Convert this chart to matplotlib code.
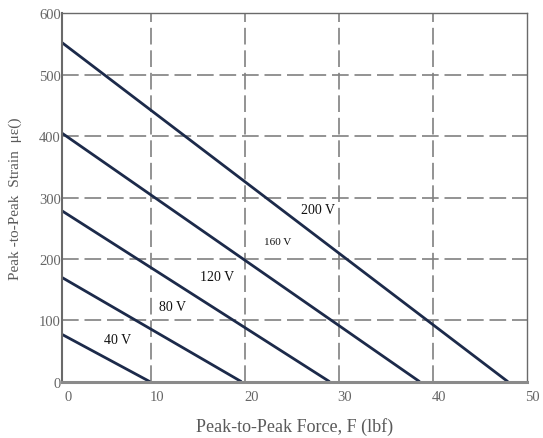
import matplotlib
matplotlib.use("Agg")
import matplotlib.pyplot as plt
import matplotlib.transforms as mtransforms

plt.rcParams['font.family'] = ['Liberation Serif', 'DejaVu Serif']

# Drive voltages and their straight-line force/strain limits
voltages = ["40 V", "80 V", "120 V", "160 V", "200 V"]
strain_at_zero_force = [81, 174, 283, 410, 558]      # peak-to-peak strain (µε) at F = 0
force_at_zero_strain = [9.85, 19.6, 29.0, 38.6, 48.0]  # blocked force (lbf)

# Curve label placement (force, strain) and font size
label_x = [6.4, 12.3, 17.0, 23.5, 27.8]
label_y = [68, 123, 172, 229, 281]
label_size = [10, 10, 10, 8, 10]

x_ticks = [0, 10, 20, 30, 40, 50]
y_ticks = [0, 100, 200, 300, 400, 500, 600]

fig = plt.figure(figsize=(5.43, 4.39), dpi=100)
ax = fig.add_axes([0.1147, 0.1282, 0.8553, 0.8388])

line_color = "#1c2a4a"
for f0, s0 in zip(force_at_zero_strain, strain_at_zero_force):
    ax.plot([0, f0], [s0, 0], color=line_color, lw=2.0, solid_capstyle="butt")

for name, lx, ly, fs in zip(voltages, label_x, label_y, label_size):
    ax.text(lx, ly, name, ha="center", va="center", fontsize=fs, color="#111111")

ax.set_xlim(0.5, 50)
ax.set_ylim(0, 600)

# Grid lines at the interior tick positions
grid_kw = dict(color="#808080", lw=1.2, dashes=(10, 3.5))
for gx in x_ticks[1:-1]:
    ax.axvline(gx, **grid_kw, zorder=0)
for gy in y_ticks[1:-1]:
    ax.axhline(gy, **grid_kw, zorder=0)

ax.set_xticks([0.5] + x_ticks[1:])
ax.set_xticklabels([str(v) for v in x_ticks])
ax.set_yticks(y_ticks)
ax.set_yticklabels([str(v) for v in y_ticks])
ax.tick_params(axis="both", length=0, labelsize=10.5, labelcolor="#666666")
ax.tick_params(axis="x", pad=6)
ax.tick_params(axis="y", pad=1)

offset = mtransforms.ScaledTranslation(6 / 100, 0, fig.dpi_scale_trans)
for lbl in ax.get_xticklabels():
    lbl.set_transform(lbl.get_transform() + offset)

for side in ["top", "right"]:
    ax.spines[side].set_color("#6a6a6a")
    ax.spines[side].set_linewidth(1.0)
ax.spines["left"].set_color("#6a6a6a")
ax.spines["left"].set_linewidth(1.5)
ax.spines["bottom"].set_color("#8a8a8a")
ax.spines["bottom"].set_linewidth(2.2)

ax.set_xlabel("Peak-to-Peak Force, F (lbf)", fontsize=13, color="#5a5a5a", labelpad=10)
ax.set_ylabel("Peak -to-Peak  Strain  με()", fontsize=11, color="#5a5a5a", labelpad=12)

fig.savefig("out.png", dpi=100)
